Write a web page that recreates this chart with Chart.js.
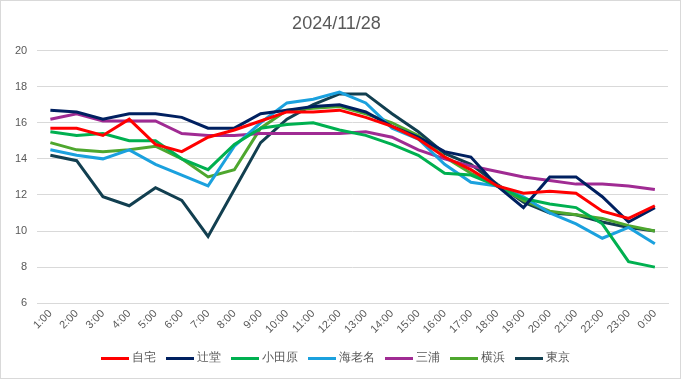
<!DOCTYPE html>
<html>
<head>
<meta charset="utf-8">
<script src="https://cdn.jsdelivr.net/npm/chart.js@4"></script>
<style>
html,body{margin:0;padding:0;background:#fff;}
#wrap{width:681px;height:379px;box-sizing:border-box;border:1px solid #d9d9d9;position:relative;}
</style>
</head>
<body>
<div id="wrap"><canvas id="c"></canvas></div>
<script>
const titleText = "2024/11/28";
const hours = ["1:00","2:00","3:00","4:00","5:00","6:00","7:00","8:00","9:00","10:00","11:00","12:00","13:00","14:00","15:00","16:00","17:00","18:00","19:00","20:00","21:00","22:00","23:00","0:00"];
const seriesNames = ["自宅","辻堂","小田原","海老名","三浦","横浜","東京"];
const jitaku   = [15.7,15.7,15.3,16.2,14.8,14.4,15.2,15.6,16.1,16.6,16.6,16.7,16.3,15.8,15.1,14.1,13.4,12.5,12.1,12.2,12.1,11.1,10.7,11.4];
const tsujido  = [16.7,16.6,16.2,16.5,16.5,16.3,15.7,15.7,16.5,16.7,16.9,17.0,16.6,15.8,15.2,14.4,14.1,12.5,11.3,13.0,13.0,11.9,10.5,11.3];
const odawara  = [15.5,15.3,15.4,15.0,15.0,14.0,13.4,14.8,15.7,15.9,16.0,15.6,15.3,14.8,14.2,13.2,13.1,12.5,11.8,11.5,11.3,10.4,8.3,8.0];
const ebina    = [14.5,14.2,14.0,14.5,13.7,13.1,12.5,14.7,16.0,17.1,17.3,17.7,17.1,15.7,15.1,13.7,12.7,12.5,11.9,11.0,10.4,9.6,10.2,9.3];
const miura    = [16.2,16.5,16.1,16.1,16.1,15.4,15.3,15.3,15.4,15.4,15.4,15.4,15.5,15.2,14.5,14.0,13.6,13.3,13.0,12.8,12.6,12.6,12.5,12.3];
const yokohama = [14.9,14.5,14.4,14.5,14.7,14.0,13.0,13.4,15.7,16.7,16.8,16.9,16.5,16.0,15.3,14.1,13.2,12.5,11.7,11.1,10.9,10.7,10.3,10.0];
const tokyo    = [14.2,13.9,11.9,11.4,12.4,11.7,9.7,12.3,14.9,16.2,17.0,17.6,17.6,16.5,15.5,14.3,13.7,12.6,11.6,11.0,10.9,10.5,10.2,10.0];
const yMin = 6, yMax = 20, yStep = 2;

const seriesValues = [jitaku,tsujido,odawara,ebina,miura,yokohama,tokyo];
const colors = ["#FF0000","#002060","#00B050","#1BA1DE","#A02B93","#4EA72E","#123F50"];
const textColor = "#595959";
const fontFam = "'Liberation Sans', Arial, sans-serif";

function legendLine(color){
  const cv = document.createElement('canvas');
  cv.width = 28; cv.height = 3;
  const g = cv.getContext('2d');
  g.fillStyle = color; g.fillRect(0,0,28,3);
  return cv;
}

new Chart(document.getElementById('c'), {
  type: 'line',
  data: {
    labels: hours,
    datasets: seriesNames.map((n,i)=>({
      label: n,
      data: seriesValues[i],
      borderColor: colors[i],
      backgroundColor: colors[i],
      borderWidth: 3,
      pointRadius: 0,
      pointHoverRadius: 0,
      pointStyle: legendLine(colors[i]),
      tension: 0,
      fill: false
    }))
  },
  options: {
    responsive: true,
    maintainAspectRatio: false,
    animation: false,
    layout: { padding: { left: 4, right: 12, top: 10, bottom: 4 } },
    plugins: {
      title: {
        display: true, text: titleText, color: textColor,
        font: { family: fontFam, size: 18, weight: 'normal' },
        padding: { top: 2, bottom: 16 }
      },
      legend: {
        position: 'bottom',
        labels: {
          color: textColor,
          font: { family: fontFam, size: 12 },
          usePointStyle: true,
          pointStyleWidth: 23,
          boxHeight: 10,
          padding: 12
        }
      },
      tooltip: { enabled: false }
    },
    scales: {
      x: {
        offset: true,
        grid: { display: false, drawTicks: false },
        border: { display: true, color: '#d9d9d9', width: 1 },
        ticks: { color: textColor, font: { family: fontFam, size: 11 }, maxRotation: 45, minRotation: 45, autoSkip: false, padding: 4 }
      },
      y: {
        min: yMin, max: yMax,
        grid: { color: '#d9d9d9', drawTicks: false },
        border: { display: false },
        ticks: { stepSize: yStep, color: textColor, font: { family: fontFam, size: 11 }, padding: 10 }
      }
    }
  }
});
</script>
</body>
</html>
